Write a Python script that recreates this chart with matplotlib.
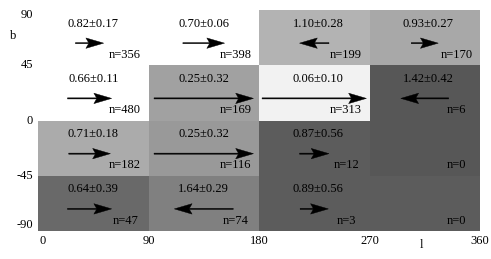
import matplotlib
matplotlib.use("Agg")
import matplotlib.pyplot as plt
from matplotlib.patches import Rectangle

plt.rcParams['font.family'] = ['Liberation Serif', 'DejaVu Serif']

# Grid definition (rows listed from top b-band to bottom)
l_edges = [0, 90, 180, 270, 360]
b_edges = [90, 45, 0, -45, -90]
x_ticks = [0, 90, 180, 270, 360]
y_ticks = [90, 45, 0, -45, -90]

means = [[0.82, 0.70, 1.10, 0.93],
         [0.66, 0.25, 0.06, 1.42],
         [0.71, 0.25, 0.87, None],
         [0.64, 1.64, 0.89, None]]
stds = [[0.17, 0.06, 0.28, 0.27],
        [0.11, 0.32, 0.10, 0.42],
        [0.18, 0.32, 0.56, None],
        [0.39, 0.29, 0.56, None]]
counts = [[356, 398, 199, 170],
          [480, 169, 313, 6],
          [182, 116, 12, 0],
          [47, 74, 3, 0]]
# arrow vector x-component (degrees of l), sign = direction
arrow_dx = [[23, 34, -24, 22],
            [36, 81, 85, -39],
            [34, 81, 24, None],
            [36, -48, 23, None]]
# cell gray level (0=black, 1=white)
gray = [[1.00, 1.00, 0.70, 0.66],
        [1.00, 0.63, 0.95, 0.34],
        [0.67, 0.60, 0.36, 0.34],
        [0.41, 0.50, 0.36, 0.36]]

fig = plt.figure(figsize=(4.91, 2.59), dpi=100)
ax = fig.add_axes([38/491, 28/259, 442/491, 221/259])
ax.set_xlim(0, 360)
ax.set_ylim(-90, 90)
for s in ax.spines.values():
    s.set_visible(False)
ax.set_xticks([])
ax.set_yticks([])

fs = 9
for i in range(4):
    btop, bbot = b_edges[i], b_edges[i + 1]
    for j in range(4):
        l0, l1 = l_edges[j], l_edges[j + 1]
        g = gray[i][j]
        ax.add_patch(Rectangle((l0, bbot), l1 - l0, btop - bbot,
                               facecolor=(g, g, g), edgecolor='none', zorder=1))
        xc = (l0 + l1) / 2
        if means[i][j] is not None:
            ax.text(xc + (3 if j >= 2 else 0), btop - 11, f"{means[i][j]:.2f}\u00b1{stds[i][j]:.2f}",
                    ha='center', va='center', fontsize=fs, zorder=3)
        ax.text(l0 + 71, bbot + 8.5, f"n={counts[i][j]}", ha='center', va='center',
                fontsize=fs, zorder=3)
        dx = arrow_dx[i][j]
        if dx is not None:
            ya = bbot + 18
            xa = xc - (3 if j == 0 else 0)
            ax.arrow(xa - dx / 2, ya, dx, 0, width=0.9, head_width=8.5,
                     head_length=14.5, length_includes_head=True, overhang=0.15,
                     facecolor='black', edgecolor='black', linewidth=0.3, zorder=4)

# axis labels (tick labels drawn as text, ends pulled inward as in reference)
for v in y_ticks:
    yy = v
    if v == 90:
        yy = 86
    elif v == -90:
        yy = -85
    ax.text(-4, yy, str(v), ha='right', va='center', fontsize=fs)
for v in x_ticks:
    xx = v + (4 if v == 0 else 0)
    ax.text(xx, -98, str(v), ha='center', va='center', fontsize=fs)
ax.text(-20, 69, 'b', ha='center', va='center', fontsize=fs)
ax.text(312, -101, 'l', ha='center', va='center', fontsize=fs)

fig.savefig('out.png', dpi=100)
